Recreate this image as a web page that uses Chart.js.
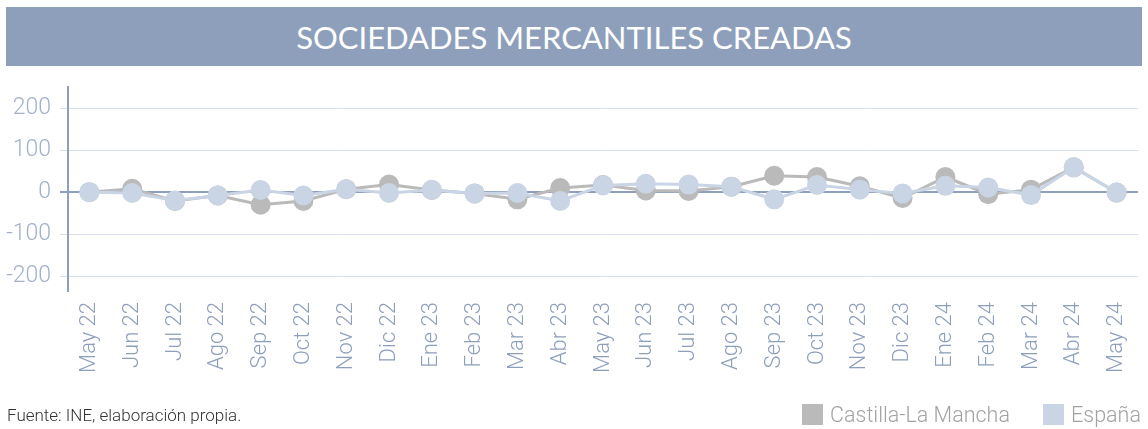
<!DOCTYPE html>
<html>
<head>
<meta charset="utf-8">
<script src="https://cdn.jsdelivr.net/npm/chart.js@4.4.1/dist/chart.umd.min.js"></script>
<style>
  body { margin: 0; background: #fff; font-family: Roboto, sans-serif; }
  #wrap { position: relative; width: 1148px; height: 429px; overflow: hidden; }
  #banner {
    position: absolute; left: 6px; top: 7px; width: 1136px; height: 59px;
    background: #8d9fbb; color: #fff; font: 31px Lato, sans-serif;
    display: flex; align-items: center; justify-content: center;
  }
  #chart { position: absolute; left: 0; top: 0; }
  #source { position: absolute; left: 7px; top: 405px; font: 300 17px Roboto, sans-serif; color: #333; }
  .leg { position: absolute; top: 403px; font: 300 21.5px Roboto, sans-serif; color: #a3a3a3; line-height: 24px; }
  .leg i { position: absolute; left: -28px; top: 1px; width: 21px; height: 21px; }
</style>
</head>
<body>
<div id="wrap">
  <canvas id="chart" width="1148" height="429"></canvas>
  <div id="banner">SOCIEDADES MERCANTILES CREADAS</div>
  <div id="source">Fuente: INE, elaboración propia.</div>
  <div class="leg" style="left:830px"><i style="background:#bababa"></i>Castilla-La Mancha</div>
  <div class="leg" style="left:1071px"><i style="background:#c9d5e5"></i>España</div>
</div>
<script>
const months = ['May 22', 'Jun 22', 'Jul 22', 'Ago 22', 'Sep 22', 'Oct 22', 'Nov 22', 'Dic 22',
  'Ene 23', 'Feb 23', 'Mar 23', 'Abr 23', 'May 23', 'Jun 23', 'Jul 23', 'Ago 23', 'Sep 23',
  'Oct 23', 'Nov 23', 'Dic 23', 'Ene 24', 'Feb 24', 'Mar 24', 'Abr 24', 'May 24'];

const castillaLaMancha = [0, 8, -21, -8, -30, -21, 7, 18, 5, -3, -17, 10, 17, 4, 3, 13, 39,
  36, 14, -14, 36, -5, 6, 59, -1];
const espana = [0, -2, -20, -8, 5, -8, 7, -2, 5, -3, -2, -21, 16, 20, 18, 13, -17,
  17, 6, -3, 15, 11, -7, 59, -1];

const yTicks = [-200, -100, 0, 100, 200];

const axisBlue = '#8d9fbb';
const gridLight = '#d6dfeb';

new Chart(document.getElementById('chart'), {
  type: 'line',
  data: {
    labels: months,
    datasets: [
      {
        label: 'Castilla-La Mancha',
        data: castillaLaMancha,
        borderColor: '#bababa',
        backgroundColor: '#bababa',
        borderWidth: 3,
        pointRadius: 10,
        pointBorderWidth: 0,
        tension: 0,
        order: 1
      },
      {
        label: 'España',
        data: espana,
        borderColor: '#c9d5e5',
        backgroundColor: '#c9d5e5',
        borderWidth: 3,
        pointRadius: 10,
        pointBorderWidth: 0,
        tension: 0,
        order: 0
      }
    ]
  },
  options: {
    responsive: false,
    animation: false,
    layout: { padding: { top: 87, right: 9, left: 0, bottom: 0 } },
    plugins: {
      legend: { display: false },
      tooltip: { enabled: false }
    },
    scales: {
      x: {
        offset: true,
        grid: { display: false },
        border: { display: false },
        ticks: {
          minRotation: 90,
          maxRotation: 90,
          autoSkip: false,
          color: axisBlue,
          font: { family: 'Roboto', size: 22, weight: 300 },
          padding: 3
        },
        afterFit: s => { s.height = 429 - 291; }
      },
      y: {
        min: -235,
        max: 250,
        afterBuildTicks: s => { s.ticks = yTicks.map(v => ({ value: v })); },
        afterFit: s => { s.width = 68; },
        grid: {
          color: c => (c.tick && c.tick.value === 0 ? axisBlue : gridLight),
          lineWidth: c => (c.tick && c.tick.value === 0 ? 2 : 1),
          tickLength: 8,
          drawTicks: true
        },
        border: { display: true, color: axisBlue, width: 2 },
        ticks: {
          color: '#a2b1c9',
          font: { family: 'Roboto', size: 23, weight: 300 },
          padding: 9
        }
      }
    }
  }
});
</script>
</body>
</html>
